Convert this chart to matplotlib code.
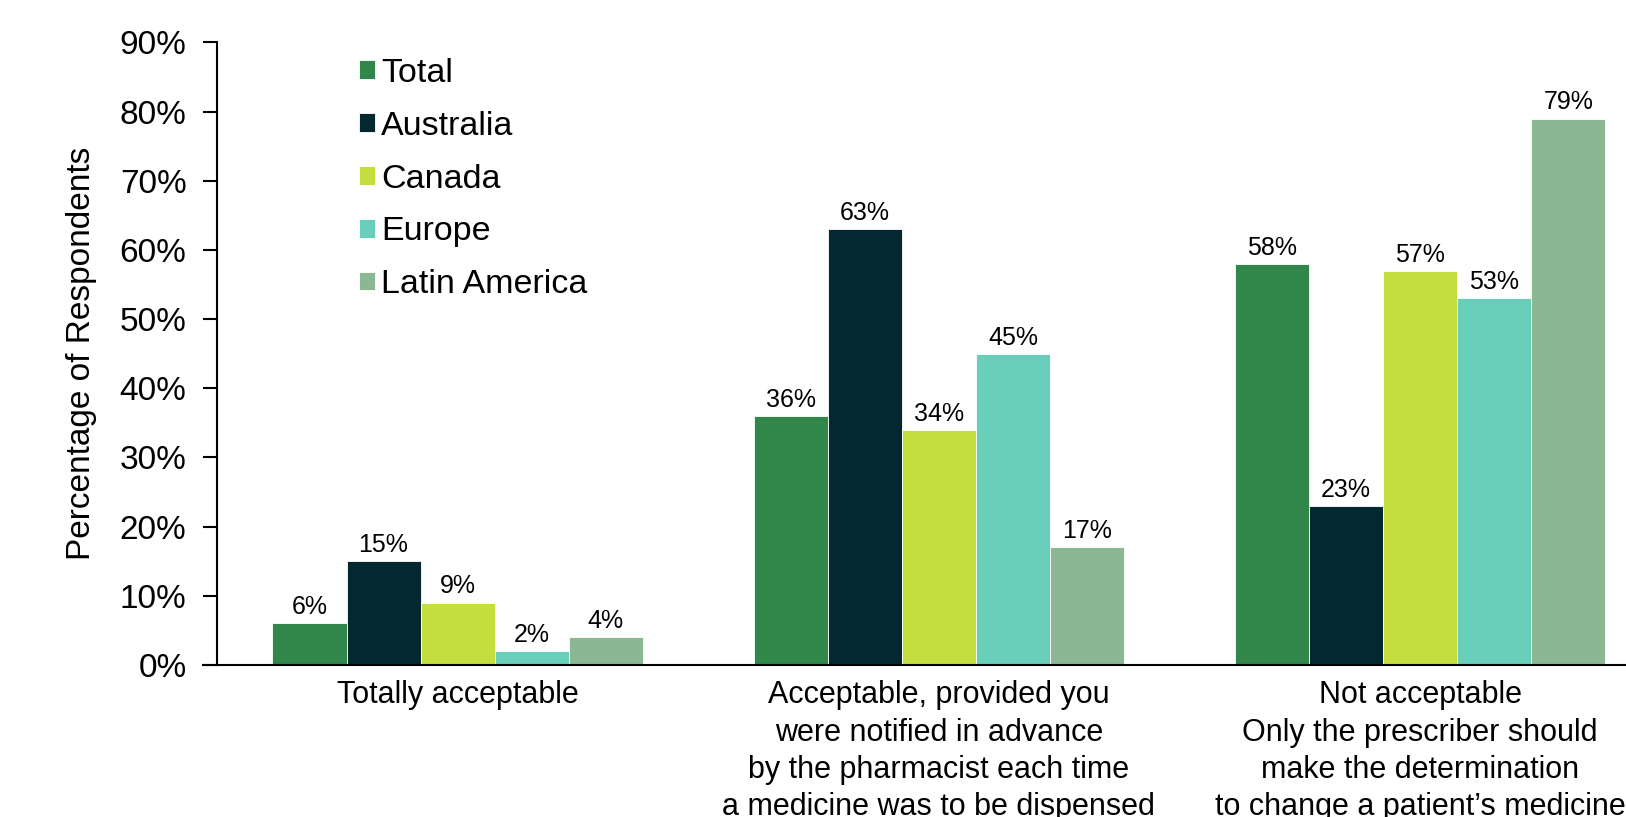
import matplotlib
matplotlib.use("Agg")
import matplotlib.pyplot as plt
import numpy as np

plt.rcParams['font.family'] = ['Liberation Sans', 'DejaVu Sans']

categories = [
    "Totally acceptable",
    "Acceptable, provided you\nwere notified in advance\nby the pharmacist each time\na medicine was to be dispensed",
    "Not acceptable\nOnly the prescriber should\nmake the determination\nto change a patient\u2019s medicine",
]
series_names = ["Total", "Australia", "Canada", "Europe", "Latin America"]
total = [6, 36, 58]
australia = [15, 63, 23]
canada = [9, 34, 57]
europe = [2, 45, 53]
latin_america = [4, 17, 79]
series_values = [total, australia, canada, europe, latin_america]
colors = ["#31874A", "#03282F", "#C4DE3E", "#69CFBA", "#8BB893"]
yticks = list(range(0, 91, 10))

fig = plt.figure(figsize=(16.26, 8.17), dpi=100)
ax = fig.add_axes([0.1335, 0.1862, 0.8878, 0.7618])

x = np.arange(len(categories))
w = 0.154
for i, (name, vals, c) in enumerate(zip(series_names, series_values, colors)):
    bars = ax.bar(x + (i - 2) * w, vals, w, color=c, label=name,
                  edgecolor='white', linewidth=0.6)
    for b, v in zip(bars, vals):
        ax.annotate(f"{v}%", (b.get_x() + b.get_width() / 2, b.get_height()),
                    xytext=(0, 3), textcoords='offset points',
                    ha='center', va='bottom', fontsize=18, color='black')

ax.set_xlim(-0.5, 2.5)
ax.set_ylim(0, 90)
ax.set_yticks(yticks)
ax.set_yticklabels([f"{t}%" for t in yticks], fontsize=24)
ax.set_xticks(x)
ax.set_xticklabels(categories, fontsize=22, linespacing=1.32, va='top')
ax.tick_params(axis='x', length=0, pad=11)
ax.tick_params(axis='y', length=10, width=1.5, direction='out', pad=12)
for s in ['top', 'right']:
    ax.spines[s].set_visible(False)
ax.spines['left'].set_linewidth(1.5)
ax.spines['bottom'].set_linewidth(1.5)
ax.spines['bottom'].set_bounds(-0.53, 2.5)
ax.set_ylabel("Percentage of Respondents", fontsize=24, labelpad=16)

leg = ax.legend(loc='upper left', bbox_to_anchor=(0.2205, 0.929),
                bbox_transform=fig.transFigure, frameon=False, fontsize=24.5,
                handlelength=0.48, handleheight=0.48, handletextpad=0.18,
                labelspacing=0.64, borderaxespad=0, borderpad=0)

fig.savefig("out.png", dpi=100)
